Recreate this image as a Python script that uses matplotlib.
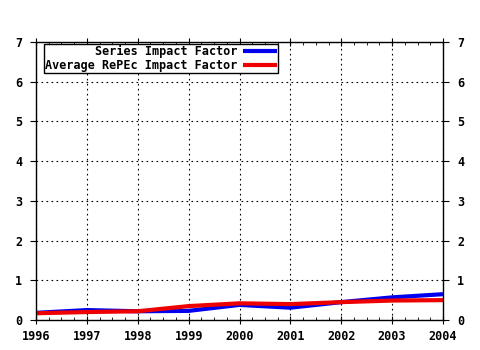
import matplotlib
matplotlib.use("Agg")
import matplotlib.pyplot as plt
from matplotlib.ticker import MultipleLocator

years = [1996, 1997, 1998, 1999, 2000, 2001, 2002, 2003, 2004]
series_if = [0.18, 0.25, 0.22, 0.23, 0.38, 0.31, 0.45, 0.57, 0.65]
average_if = [0.17, 0.20, 0.22, 0.35, 0.42, 0.40, 0.45, 0.49, 0.50]

plt.rcParams['font.family'] = ['DejaVu Sans Mono']
plt.rcParams['font.weight'] = 'bold'

fig = plt.figure(figsize=(4.8, 3.5), dpi=100)
ax = fig.add_axes([36/480, 30/350, 407/480, 278/350])

ax.plot(years, series_if, color='#0000ee', lw=3, label='Series Impact Factor', solid_capstyle='butt')
ax.plot(years, average_if, color='#ee0000', lw=3, label='Average RePEc Impact Factor', solid_capstyle='butt')

ax.set_xlim(1996, 2004)
ax.set_ylim(0, 7)
ax.xaxis.set_major_locator(MultipleLocator(1))
ax.xaxis.set_minor_locator(MultipleLocator(0.25))
ax.yaxis.set_major_locator(MultipleLocator(1))

ax.grid(True, which='major', color='black', linestyle=(0, (1.5, 3)), linewidth=0.8)
for s in ax.spines.values():
    s.set_linewidth(1)

ax.tick_params(axis='x', which='major', direction='inout', length=6, labelsize=8.5, pad=4, top=True)
ax.tick_params(axis='x', which='minor', direction='in', length=2, top=True)
ax.tick_params(axis='y', which='major', direction='out', length=4, labelsize=8.5,
               right=True, labelright=True, pad=6)

ax.legend(loc='upper left', markerfirst=False, fontsize=8.5, frameon=True, fancybox=False,
          edgecolor='black', framealpha=1, borderpad=0.1, labelspacing=0.1,
          handlelength=2.8, handletextpad=0.5, borderaxespad=0,
          bbox_to_anchor=(8/407, 1 - 1.5/278))

fig.savefig('out.png', dpi=100)
